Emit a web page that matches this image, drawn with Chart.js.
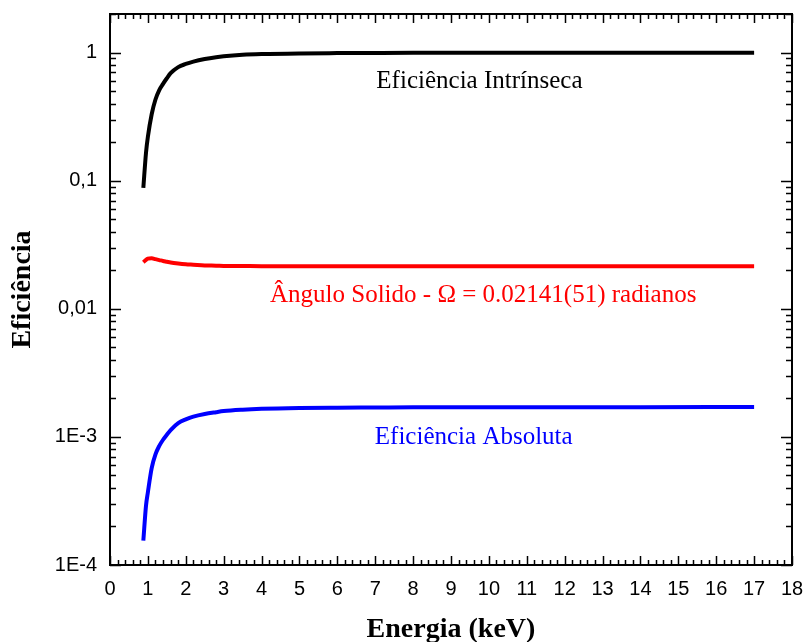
<!DOCTYPE html>
<html>
<head>
<meta charset="utf-8">
<script src="https://cdn.jsdelivr.net/npm/chart.js@4/dist/chart.umd.min.js"></script>
<style>
  html, body { margin: 0; padding: 0; background: #fff; }
  #wrap { width: 806px; height: 642px; }
</style>
</head>
<body>
<div id="wrap"><canvas id="c" width="806" height="642"></canvas></div>
<script>
// ---- data ----
const energia = [0.88, 0.95, 1.0, 1.1, 1.2, 1.3, 1.4, 1.5, 1.6, 1.8, 2.0, 2.2, 2.5, 2.8, 3.0, 3.5, 4, 5, 6, 7, 8, 10, 12, 14, 17];
const intrinseca = [0.088, 0.165, 0.22, 0.33, 0.43, 0.51, 0.57, 0.63, 0.69, 0.77, 0.815, 0.85, 0.89, 0.92, 0.935, 0.96, 0.973, 0.985, 0.99, 0.993, 0.995, 0.996, 0.997, 0.997, 0.997];
const anguloSolido = [0.0231, 0.0241, 0.0246, 0.0248, 0.0244, 0.0240, 0.0236, 0.0233, 0.0230, 0.0226, 0.0223, 0.0221, 0.0218, 0.0217, 0.0216, 0.02155, 0.0215, 0.02148, 0.02145, 0.02145, 0.02145, 0.02145, 0.02145, 0.02145, 0.02145];
const absoluta = [1.55e-4, 2.9e-4, 3.7e-4, 5.7e-4, 7.3e-4, 8.5e-4, 9.5e-4, 1.04e-3, 1.13e-3, 1.28e-3, 1.37e-3, 1.44e-3, 1.51e-3, 1.56e-3, 1.59e-3, 1.63e-3, 1.655e-3, 1.68e-3, 1.69e-3, 1.695e-3, 1.70e-3, 1.70e-3, 1.705e-3, 1.705e-3, 1.71e-3];
const yTickValues = [1e-4, 1e-3, 1e-2, 1e-1, 1];
const yTickLabels = ['1E-4', '1E-3', '0,01', '0,1', '1'];
const seriesNames = ['Eficiência Intrínseca', 'Ângulo Solido - Ω = 0.02141(51) radianos', 'Eficiência Absoluta'];
const seriesColors = ['#000000', '#ff0000', '#0000ff'];
// label anchors (data coordinates)
const labelX = [9.75, 9.85, 9.6];
const labelY = [0.6, 0.0127, 0.00099];

function pts(ys) { return energia.map((x, i) => ({ x: x, y: ys[i] })); }

const frameTicks = {
  id: 'frameTicks',
  afterDraw(chart) {
    const ctx = chart.ctx;
    const xs = chart.scales.x, ys = chart.scales.y;
    const { left, right, top, bottom } = chart.chartArea;
    ctx.save();
    ctx.strokeStyle = '#000';
    ctx.lineWidth = 1.5;
    ctx.beginPath();
    for (let v = 0; v <= 18.0001; v += 0.2) {
      const r = Math.round(v * 5) / 5;
      const major = Math.abs(r - Math.round(r)) < 1e-6;
      const L = major ? 9 : 5;
      const px = Math.round(xs.getPixelForValue(r)) + 0.5;
      ctx.moveTo(px, bottom); ctx.lineTo(px, bottom - L);
      ctx.moveTo(px, top); ctx.lineTo(px, top + L);
    }
    for (let e = -4; e <= 0; e++) {
      for (let m = 1; m <= 9; m++) {
        const v = m * Math.pow(10, e);
        if (v > 2.0001) break;
        const L = m === 1 ? 11 : 6;
        const py = Math.round(ys.getPixelForValue(v)) + 0.5;
        ctx.moveTo(left, py); ctx.lineTo(left + L, py);
        ctx.moveTo(right, py); ctx.lineTo(right - L, py);
      }
    }
    ctx.stroke();
    ctx.lineWidth = 2;
    ctx.strokeRect(left, top, right - left, bottom - top);
    ctx.font = '25px "Liberation Serif", "Times New Roman", serif';
    ctx.textAlign = 'center';
    ctx.textBaseline = 'middle';
    for (let i = 0; i < seriesNames.length; i++) {
      ctx.fillStyle = seriesColors[i];
      ctx.fillText(seriesNames[i], xs.getPixelForValue(labelX[i]), ys.getPixelForValue(labelY[i]));
    }
    ctx.restore();
  }
};

function zeroPad(s) { s.paddingTop = 0; s.paddingBottom = 0; s.paddingLeft = 0; s.paddingRight = 0; }

new Chart(document.getElementById('c'), {
  type: 'scatter',
  data: {
    datasets: [
      { label: seriesNames[0], data: pts(intrinseca), borderColor: seriesColors[0] },
      { label: seriesNames[1], data: pts(anguloSolido), borderColor: seriesColors[1] },
      { label: seriesNames[2], data: pts(absoluta), borderColor: seriesColors[2] }
    ].map(d => Object.assign(d, { showLine: true, pointRadius: 0, borderWidth: 4, cubicInterpolationMode: 'monotone', fill: false }))
  },
  options: {
    responsive: false,
    animation: false,
    layout: { padding: { left: 0, right: 14, top: 14, bottom: 0 } },
    plugins: { legend: { display: false }, tooltip: { enabled: false } },
    scales: {
      x: {
        type: 'linear', min: 0, max: 18,
        grid: { display: false, drawTicks: false },
        border: { display: false },
        ticks: { stepSize: 1, autoSkip: false, maxRotation: 0, padding: 12, color: '#000',
                 font: { family: '"Liberation Sans", Arial, sans-serif', size: 20 } },
        title: { display: true, text: 'Energia (keV)', color: '#000', padding: { top: 0, bottom: -5 },
                 font: { family: '"Liberation Serif", "Times New Roman", serif', size: 28, weight: 'bold' } },
        afterFit(s) { s.height = 77; zeroPad(s); }
      },
      y: {
        type: 'logarithmic', min: 1e-4, max: 2,
        grid: { display: false, drawTicks: false },
        border: { display: false },
        afterBuildTicks(s) { s.ticks = yTickValues.map(v => ({ value: v })); },
        ticks: { autoSkip: false, padding: 13, color: '#000',
                 callback: (v) => { const i = yTickValues.findIndex(t => Math.abs(t - v) / t < 1e-6); return i >= 0 ? yTickLabels[i] : ''; },
                 font: { family: '"Liberation Sans", Arial, sans-serif', size: 20 } },
        title: { display: true, text: 'Eficiência', color: '#000', padding: { top: 6, bottom: 0 },
                 font: { family: '"Liberation Serif", "Times New Roman", serif', size: 28, weight: 'bold' } },
        afterFit(s) { s.width = 110; zeroPad(s); }
      }
    }
  },
  plugins: [frameTicks]
});
</script>
</body>
</html>
